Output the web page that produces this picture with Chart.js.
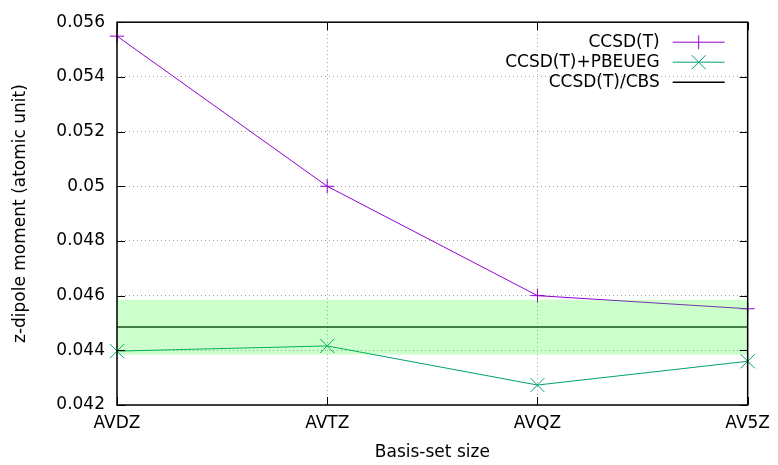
<!DOCTYPE html>
<html>
<head>
<meta charset="utf-8">
<script src="https://cdn.jsdelivr.net/npm/chart.js@4"></script>
<style>
  body { margin: 0; background: #fff; }
  canvas { display: block; }
</style>
</head>
<body>
<canvas id="dipoleChart" width="778" height="465"></canvas>
<script>
// Données
const basisSets = ['AVDZ', 'AVTZ', 'AVQZ', 'AV5Z'];
const ccsdt = [0.05549, 0.0500, 0.0460, 0.04552];
const ccsdtPbe = [0.04397, 0.04416, 0.04273, 0.04360];
const cbsValue = 0.04485;
const cbsError = 0.0010;
const yTicks = [0.042, 0.044, 0.046, 0.048, 0.05, 0.052, 0.054, 0.056];

const FONT = 'DejaVu Sans';
const xs = basisSets.map((_, i) => i);
const pts = arr => arr.map((v, i) => ({ x: xs[i], y: v }));
const flat = v => [{ x: 0, y: v }, { x: basisSets.length - 1, y: v }];

// Cadre + petites graduations vers l'intérieur (style gnuplot)
const framePlugin = {
    id: 'frame',
    afterDatasetsDraw(chart) {
        const { ctx, chartArea: a, scales: { x, y } } = chart;
        ctx.save();
        ctx.strokeStyle = '#000';
        ctx.lineWidth = 1;
        const t = 8;
        ctx.beginPath();
        yTicks.forEach(v => {
            const py = Math.round(y.getPixelForValue(v)) + 0.5;
            ctx.moveTo(a.left, py); ctx.lineTo(a.left + t, py);
            ctx.moveTo(a.right, py); ctx.lineTo(a.right - t, py);
        });
        xs.forEach(v => {
            const px = Math.round(x.getPixelForValue(v)) + 0.5;
            ctx.moveTo(px, a.bottom); ctx.lineTo(px, a.bottom - t);
            ctx.moveTo(px, a.top); ctx.lineTo(px, a.top + t);
        });
        ctx.stroke();
        ctx.lineWidth = 1.5;
        ctx.strokeRect(a.left, a.top, a.right - a.left, a.bottom - a.top);
        ctx.restore();
    }
};

// Légende à la gnuplot : texte à gauche, échantillon à droite
const legendPlugin = {
    id: 'gpLegend',
    afterDraw(chart) {
        const { ctx, chartArea: a } = chart;
        const items = [
            { text: 'CCSD(T)', color: '#9400d3', marker: 'plus' },
            { text: 'CCSD(T)+PBEUEG', color: '#009e73', marker: 'x' },
            { text: 'CCSD(T)/CBS', color: '#000000', marker: null }
        ];
        ctx.save();
        ctx.font = '17px ' + FONT;
        ctx.textAlign = 'right';
        ctx.textBaseline = 'middle';
        items.forEach((it, i) => {
            const yy = a.top + 20 + i * 20;
            const x1 = a.right - 75, x2 = a.right - 23, xc = (x1 + x2) / 2;
            ctx.fillStyle = '#000';
            ctx.fillText(it.text, a.right - 88, yy);
            ctx.strokeStyle = it.color;
            ctx.lineWidth = it.marker ? 1 : 1.5;
            ctx.beginPath();
            ctx.moveTo(x1, yy); ctx.lineTo(x2, yy);
            if (it.marker === 'plus') {
                ctx.moveTo(xc, yy - 7); ctx.lineTo(xc, yy + 7);
            } else if (it.marker === 'x') {
                ctx.moveTo(xc - 7, yy - 7); ctx.lineTo(xc + 7, yy + 7);
                ctx.moveTo(xc - 7, yy + 7); ctx.lineTo(xc + 7, yy - 7);
            }
            ctx.stroke();
        });
        ctx.restore();
    }
};

const ctx = document.getElementById('dipoleChart').getContext('2d');
const dipoleChart = new Chart(ctx, {
    type: 'scatter',
    data: {
        datasets: [
            {
                label: 'bande haute',
                data: flat(cbsValue + cbsError),
                showLine: true,
                borderWidth: 0,
                pointRadius: 0,
                backgroundColor: 'rgba(0, 255, 0, 0.2)',
                fill: '+1'
            },
            {
                label: 'bande basse',
                data: flat(cbsValue - cbsError),
                showLine: true,
                borderWidth: 0,
                pointRadius: 0,
                fill: false
            },
            {
                label: 'CCSD(T)/CBS',
                data: flat(cbsValue),
                showLine: true,
                borderColor: '#1b2b1b',
                borderWidth: 1.5,
                pointRadius: 0,
                fill: false
            },
            {
                label: 'CCSD(T)',
                data: pts(ccsdt),
                showLine: true,
                borderColor: '#9400d3',
                borderWidth: 1,
                pointStyle: 'cross',
                pointRadius: 7,
                pointBorderWidth: 1,
                pointBorderColor: '#9400d3',
                clip: false,
                fill: false
            },
            {
                label: 'CCSD(T)+PBEUEG',
                data: pts(ccsdtPbe),
                showLine: true,
                borderColor: '#009e73',
                borderWidth: 1,
                pointStyle: 'crossRot',
                pointRadius: 10,
                pointBorderWidth: 1,
                pointBorderColor: '#009e73',
                clip: false,
                fill: false
            }
        ]
    },
    options: {
        responsive: false,
        animation: false,
        layout: { padding: { top: 21, right: 25, left: 0, bottom: 0 } },
        plugins: {
            legend: { display: false },
            tooltip: { enabled: false }
        },
        scales: {
            x: {
                type: 'linear',
                min: 0,
                max: basisSets.length - 1,
                afterFit(s) { s.height = 60; },
                afterBuildTicks(s) { s.ticks = xs.map(v => ({ value: v })); },
                ticks: {
                    color: '#000',
                    font: { family: FONT, size: 17 },
                    padding: 8,
                    maxRotation: 0,
                    callback: v => basisSets[v]
                },
                grid: { color: '#a0a0a0', lineWidth: 1, drawTicks: false },
                border: { display: false, dash: [1, 3] },
                title: {
                    display: true,
                    text: 'Basis-set size',
                    color: '#000',
                    font: { family: FONT, size: 17 },
                    padding: { top: 0, bottom: 2 }
                }
            },
            y: {
                min: 0.042,
                max: 0.056,
                afterFit(s) { s.width = 117; },
                afterBuildTicks(s) { s.ticks = yTicks.map(v => ({ value: v })); },
                ticks: {
                    color: '#000',
                    font: { family: FONT, size: 17 },
                    padding: 12,
                    callback: v => String(Number(v.toFixed(3)))
                },
                grid: { color: '#a0a0a0', lineWidth: 1, drawTicks: false },
                border: { display: false, dash: [1, 3] },
                title: {
                    display: true,
                    text: 'z-dipole moment (atomic unit)',
                    color: '#000',
                    font: { family: FONT, size: 17 },
                    padding: { top: 10, bottom: 0 }
                }
            }
        }
    },
    plugins: [framePlugin, legendPlugin]
});
</script>
</body>
</html>
